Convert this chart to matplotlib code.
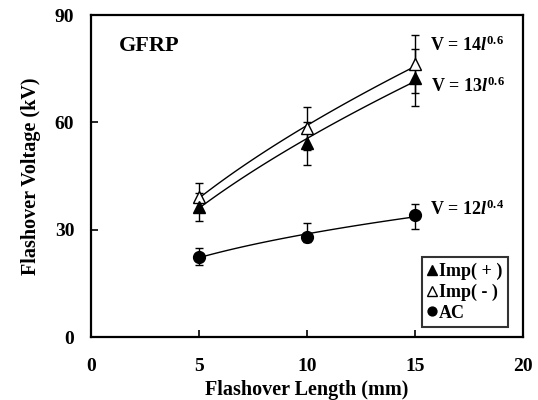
import numpy as np
import matplotlib
matplotlib.use("Agg")
import matplotlib.pyplot as plt

plt.rcParams['font.family'] = ['Liberation Serif', 'DejaVu Serif']
plt.rcParams['font.weight'] = 'bold'
plt.rcParams['mathtext.fontset'] = 'custom'
plt.rcParams['mathtext.rm'] = 'Liberation Serif:bold'
plt.rcParams['mathtext.it'] = 'Liberation Serif:bold:italic'
plt.rcParams['mathtext.bf'] = 'Liberation Serif:bold'

length = [5, 10, 15]
imp_pos = [36.3, 54.2, 72.5]
imp_pos_err = [4.0, 6.0, 8.0]
imp_neg = [39.0, 58.3, 76.3]
imp_neg_err = [4.0, 6.0, 8.0]
ac = [22.4, 28.0, 34.2]
ac_err_low = [2.4, 1.5, 4.0]
ac_err_high = [2.4, 4.0, 3.0]

labels_fit = [r"V = 14$\mathit{l}^{0.6}$", r"V = 13$\mathit{l}^{0.6}$", r"V = 12$\mathit{l}^{0.4}$"]

fig = plt.figure(figsize=(5.38, 4.0), dpi=100)
ax = fig.add_axes([0.169, 0.1575, 0.803, 0.805])

def power_curve(x, y):
    b, a = np.polyfit(np.log(x), np.log(y), 1)
    xs = np.linspace(min(x), max(x), 100)
    return xs, np.exp(a) * xs ** b

for y in (imp_neg, imp_pos, ac):
    xs, ys = power_curve(length, y)
    ax.plot(xs, ys, color='black', lw=1.0, zorder=2)

ekw = dict(fmt='none', ecolor='black', elinewidth=1.0, capsize=3, capthick=1.0, zorder=3)
ax.errorbar(length, imp_pos, yerr=imp_pos_err, **ekw)
ax.errorbar(length, imp_neg, yerr=imp_neg_err, **ekw)
ax.errorbar(length, ac, yerr=[ac_err_low, ac_err_high], **ekw)

h1, = ax.plot(length, imp_pos, linestyle='none', marker='^', ms=9, mfc='black', mec='black', zorder=5, label='Imp( + )')
h2, = ax.plot(length, imp_neg, linestyle='none', marker='^', ms=9, mfc='white', mec='black', mew=1.0, zorder=4, label='Imp( - )')
h3, = ax.plot(length, ac, linestyle='none', marker='o', ms=8.5, mfc='black', mec='black', zorder=5, label='AC')

ax.set_xlim(0, 20)
ax.set_ylim(0, 90)
ax.set_xticks([0, 5, 10, 15, 20])
ax.set_yticks([0, 30, 60, 90])
ax.tick_params(direction='in', length=5, width=1.2, labelsize=14)
ax.tick_params(axis='x', pad=15)
ax.tick_params(axis='y', pad=12)
for lab in ax.get_xticklabels() + ax.get_yticklabels():
    lab.set_fontweight('bold')
for sp in ax.spines.values():
    sp.set_linewidth(1.6)

ax.set_xlabel('Flashover Length (mm)', fontsize=14.5, fontweight='bold', labelpad=4)
ax.set_ylabel('Flashover Voltage (kV)', fontsize=14.5, fontweight='bold', labelpad=10)

ax.text(1.3, 81.4, 'GFRP', fontsize=16, fontweight='bold', va='center', ha='left')
ax.text(15.7, 81.4, labels_fit[0], fontsize=13, va='center', ha='left')
ax.text(15.75, 70.2, labels_fit[1], fontsize=13, va='center', ha='left')
ax.text(15.7, 35.8, labels_fit[2], fontsize=13, va='center', ha='left')

leg = ax.legend(handles=[h1, h2, h3], loc='lower right', bbox_to_anchor=(0.965, 0.031),
                borderaxespad=0, fontsize=13, frameon=True, fancybox=False, edgecolor='black',
                handlelength=0.5, handletextpad=0.15, borderpad=0.3, labelspacing=0.2,
                markerscale=0.75)
leg.get_frame().set_linewidth(1.5)
for t in leg.get_texts():
    t.set_fontweight('bold')

fig.savefig('out.png', dpi=100)
